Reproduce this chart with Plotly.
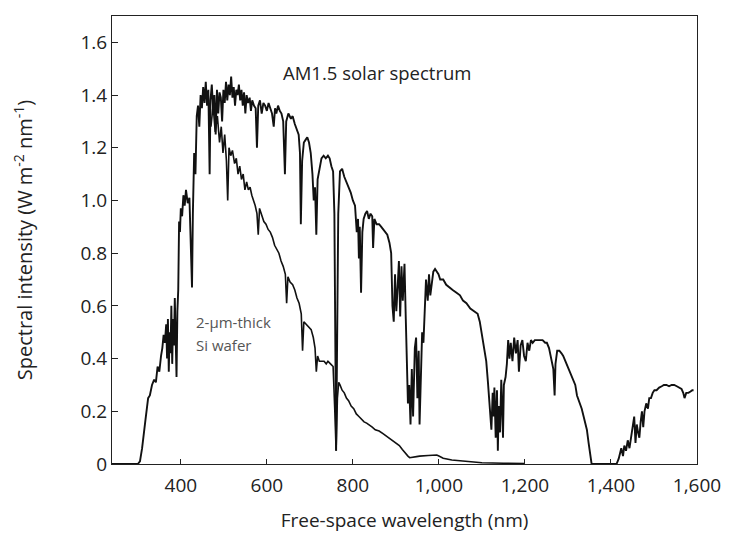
import plotly.graph_objects as go

# AM1.5 solar spectrum
solar_wl = [240, 300, 305, 310, 318, 324, 328, 333, 338, 342, 346, 350, 354, 357, 360, 363, 366, 368, 370, 372,
            374, 376, 378, 380, 382, 384, 386, 388, 390, 392, 394, 396, 398, 400, 403, 406, 409, 412, 416, 420,
            423, 426, 428, 431, 434, 437, 440, 443, 446, 449, 452, 455, 458, 461, 464, 467, 469, 472, 475, 478,
            481, 484, 487, 490, 493, 496, 499, 502, 505, 508, 511, 514, 517, 520, 523, 526, 529, 532, 535, 538,
            541, 544, 547, 550, 553, 556, 560, 563, 566, 570, 574, 577, 580, 584, 588, 592, 596, 600, 604, 608,
            612, 616, 619, 622, 626, 630, 634, 638, 642, 645, 650, 656, 660, 665, 670, 674, 677, 679, 682, 686,
            690, 694, 698, 702, 706, 709, 712, 715, 718, 722, 727, 732, 737, 742, 746, 750, 754, 757, 759, 761,
            763, 766, 770, 775, 780, 785, 790, 795, 800, 805, 809, 812, 814, 816, 819, 822, 825, 829, 833, 837,
            841, 845, 847, 850, 855, 861, 866, 870, 875, 880, 885, 889, 892, 895, 898, 901, 904, 907, 910, 913,
            916, 920, 923, 925, 928, 931, 934, 937, 940, 944, 947, 950, 953, 955, 958, 961, 964, 967, 970, 974,
            977, 980, 983, 987, 991, 995, 999, 1003, 1010, 1017, 1024, 1032, 1041, 1049, 1056, 1064, 1073, 1083,
            1090, 1095, 1099, 1102, 1106, 1110, 1114, 1117, 1120, 1122, 1125, 1127, 1129, 1132, 1135, 1137, 1139,
            1142, 1145, 1147, 1149, 1151, 1155, 1158, 1161, 1164, 1167, 1171, 1175, 1179, 1183, 1186, 1190, 1194,
            1198, 1202, 1206, 1210, 1214, 1218, 1223, 1229, 1235, 1241, 1247, 1251, 1256, 1260, 1263, 1266, 1269,
            1271, 1275, 1280, 1285, 1289, 1294, 1299, 1303, 1307, 1312, 1317, 1321, 1326, 1332, 1338, 1344, 1348,
            1352, 1355, 1413, 1418, 1421, 1424, 1428, 1431, 1435, 1439, 1443, 1447, 1451, 1454, 1457, 1460, 1463,
            1466, 1469, 1472, 1475, 1478, 1482, 1486, 1489, 1493, 1497, 1501, 1506, 1512, 1518, 1523, 1529, 1535,
            1541, 1547, 1553, 1558, 1564, 1568, 1571, 1575, 1580, 1585, 1589, 1592]
solar_val = [0, 0, 0.01, 0.06, 0.17, 0.25, 0.26, 0.30, 0.32, 0.31, 0.37, 0.35, 0.41, 0.44, 0.49, 0.46, 0.53, 0.40, 0.55, 0.35,
             0.50, 0.42, 0.60, 0.38, 0.55, 0.45, 0.63, 0.50, 0.33, 0.58, 0.66, 0.92, 0.88, 0.97, 0.94, 1.02, 0.98, 1.04, 0.99, 1.01,
             0.85, 0.67, 0.95, 1.18, 1.10, 1.32, 1.36, 1.28, 1.40, 1.35, 1.43, 1.37, 1.45, 1.36, 1.42, 1.10, 1.38, 1.44, 1.35, 1.40,
             1.25, 1.42, 1.33, 1.41, 1.39, 1.30, 1.42, 1.37, 1.45, 1.38, 1.44, 1.40, 1.47, 1.39, 1.43, 1.36, 1.42, 1.40, 1.44, 1.38,
             1.42, 1.36, 1.41, 1.33, 1.40, 1.37, 1.39, 1.34, 1.38, 1.36, 1.35, 1.20, 1.36, 1.38, 1.33, 1.37, 1.36, 1.34, 1.37, 1.35,
             1.33, 1.28, 1.35, 1.33, 1.36, 1.34, 1.33, 1.30, 1.10, 1.30, 1.33, 1.31, 1.32, 1.29, 1.27, 1.25, 1.18, 0.91, 1.15, 1.22,
             1.23, 1.24, 1.22, 1.18, 1.10, 1.00, 1.05, 0.87, 1.08, 1.12, 1.16, 1.17, 1.16, 1.17, 1.16, 1.13, 1.11, 0.95, 0.30, 0.05,
             0.40, 0.95, 1.11, 1.12, 1.09, 1.07, 1.05, 1.03, 1.00, 0.98, 0.88, 0.93, 0.78, 0.90, 0.65, 0.88, 0.93, 0.95, 0.96, 0.93,
             0.95, 0.94, 0.82, 0.93, 0.91, 0.91, 0.90, 0.89, 0.88, 0.87, 0.84, 0.80, 0.60, 0.54, 0.72, 0.58, 0.67, 0.77, 0.56, 0.75,
             0.62, 0.76, 0.55, 0.40, 0.23, 0.30, 0.15, 0.36, 0.18, 0.44, 0.48, 0.25, 0.43, 0.15, 0.38, 0.50, 0.46, 0.57, 0.70, 0.62,
             0.72, 0.64, 0.68, 0.73, 0.74, 0.73, 0.72, 0.70, 0.70, 0.68, 0.67, 0.66, 0.65, 0.64, 0.62, 0.61, 0.59, 0.58,
             0.57, 0.54, 0.50, 0.48, 0.43, 0.39, 0.31, 0.24, 0.16, 0.13, 0.27, 0.18, 0.29, 0.10, 0.28, 0.05, 0.22,
             0.12, 0.32, 0.18, 0.10, 0.30, 0.33, 0.38, 0.47, 0.40, 0.46, 0.39, 0.48, 0.42, 0.47, 0.35, 0.45, 0.47,
             0.41, 0.39, 0.46, 0.43, 0.47, 0.46, 0.47, 0.47, 0.47, 0.47, 0.46, 0.46, 0.44, 0.41, 0.39, 0.36, 0.26,
             0.38, 0.43, 0.43, 0.42, 0.41, 0.39, 0.37, 0.36, 0.34, 0.32, 0.30, 0.26, 0.24, 0.21, 0.17, 0.13, 0.08,
             0.03, 0, 0, 0.02, 0.04, 0.06, 0.03, 0.07, 0.05, 0.09, 0.06, 0.11, 0.14, 0.18, 0.08, 0.15, 0.12,
             0.10, 0.16, 0.20, 0.14, 0.20, 0.23, 0.21, 0.25, 0.25, 0.27, 0.28, 0.28, 0.29, 0.295, 0.30, 0.30, 0.295,
             0.30, 0.30, 0.295, 0.29, 0.285, 0.27, 0.25, 0.27, 0.27, 0.275, 0.28, 0.28]

# Spectrum after the 2-um-thick Si wafer
si_wl = [465, 470, 475, 480, 485, 490, 494, 498, 502, 506, 509, 512, 516, 520, 525, 529, 533, 537, 541, 545,
         549, 553, 557, 561, 565, 569, 573, 577, 580, 583, 588, 593, 598, 603, 608, 613, 618, 624, 628, 633,
         638, 643, 646, 649, 654, 660, 665, 670, 675, 680, 683, 686, 691, 697, 703, 708, 712, 715, 718, 722,
         727, 733, 738, 742, 748, 754, 758, 761, 764, 767, 770, 775, 780, 785, 790, 796, 802, 808, 814, 820,
         826, 832, 837, 845, 852, 861, 870, 878, 884, 892, 900, 908, 915, 922, 928, 932, 940, 948, 955, 965,
         975, 985, 995, 1000, 1010, 1030, 1060, 1100, 1150, 1200]
si_val = [1.33, 1.28, 1.36, 1.26, 1.32, 1.22, 1.28, 1.18, 1.25, 1.15, 1.00, 1.20, 1.17, 1.19, 1.14, 1.16, 1.10, 1.13, 1.08, 1.10,
          1.04, 1.07, 1.04, 1.05, 1.02, 1.00, 0.98, 0.95, 0.87, 0.97, 0.94, 0.92, 0.91, 0.89, 0.88, 0.86, 0.83, 0.81, 0.80, 0.77,
          0.75, 0.72, 0.61, 0.71, 0.69, 0.68, 0.66, 0.63, 0.61, 0.57, 0.43, 0.54, 0.53, 0.52, 0.51, 0.48, 0.44, 0.35, 0.41, 0.39,
          0.39, 0.39, 0.38, 0.39, 0.38, 0.37, 0.20, 0.05, 0.25, 0.31, 0.30, 0.28, 0.27, 0.25, 0.24, 0.22, 0.21, 0.19, 0.18, 0.17,
          0.16, 0.155, 0.15, 0.14, 0.13, 0.125, 0.115, 0.105, 0.10, 0.09, 0.08, 0.07, 0.055, 0.04, 0.03, 0.024, 0.025, 0.028, 0.03, 0.03,
          0.032, 0.033, 0.034, 0.03, 0.022, 0.015, 0.01, 0.005, 0.003, 0.002]

x_tick_vals = [400, 600, 800, 1000, 1200, 1400, 1600]
x_tick_text = ["400", "600", "800", "1,000", "1,200", "1,400", "1,600"]
y_tick_vals = [0, 0.2, 0.4, 0.6, 0.8, 1.0, 1.2, 1.4, 1.6]
y_tick_text = ["0", "0.2", "0.4", "0.6", "0.8", "1.0", "1.2", "1.4", "1.6"]

FONT = "Open Sans, Lato, DejaVu Sans, sans-serif"
INK = "#111111"
TXT = "#222222"

fig = go.Figure()
fig.add_trace(go.Scatter(x=solar_wl, y=solar_val, mode="lines",
                         line=dict(color=INK, width=1.9), showlegend=False, hoverinfo="skip"))
fig.add_trace(go.Scatter(x=si_wl, y=si_val, mode="lines",
                         line=dict(color=INK, width=1.6), showlegend=False, hoverinfo="skip"))

fig.add_annotation(x=632, y=1.485, xref="x", yref="y", text="AM1.5 solar spectrum",
                   showarrow=False, xanchor="left", yanchor="middle",
                   font=dict(family=FONT, size=18.5, color=TXT))
fig.add_annotation(x=430, y=0.54, xref="x", yref="y", text="2-μm-thick",
                   showarrow=False, xanchor="left", yanchor="middle",
                   font=dict(family=FONT, size=15, color="#555"))
fig.add_annotation(x=430, y=0.45, xref="x", yref="y", text="Si wafer",
                   showarrow=False, xanchor="left", yanchor="middle",
                   font=dict(family=FONT, size=15, color="#555"))

# the page body adds an 8px offset, so the figure is sized to fit inside the window
fig.update_layout(
    width=721, height=530,
    margin=dict(l=104, r=32, t=8, b=74),
    paper_bgcolor="white", plot_bgcolor="white",
    font=dict(family=FONT, color=TXT),
    xaxis=dict(range=[240, 1600], tickvals=x_tick_vals, ticktext=x_tick_text,
               showline=True, mirror=True, linecolor="#222", linewidth=1,
               ticks="inside", ticklen=5, tickcolor="#222", showgrid=False, zeroline=False,
               automargin=False, ticklabelstandoff=4,
               tickfont=dict(family=FONT, size=19, color=TXT),
               title=dict(text="Free-space wavelength (nm)", standoff=16,
                          font=dict(family=FONT, size=19, color=TXT))),
    yaxis=dict(range=[0, 1.7], tickvals=y_tick_vals, ticktext=y_tick_text,
               showline=True, mirror=True, linecolor="#222", linewidth=1,
               ticks="inside", ticklen=6, tickcolor="#222", showgrid=False, zeroline=False,
               automargin=False,
               tickfont=dict(family=FONT, size=19, color=TXT),
               title=dict(text="Spectral intensity (W m<sup>-2</sup> nm<sup>-1</sup>)", standoff=42,
                          font=dict(family=FONT, size=20, color=TXT))),
)

fig.write_html("out.html")
